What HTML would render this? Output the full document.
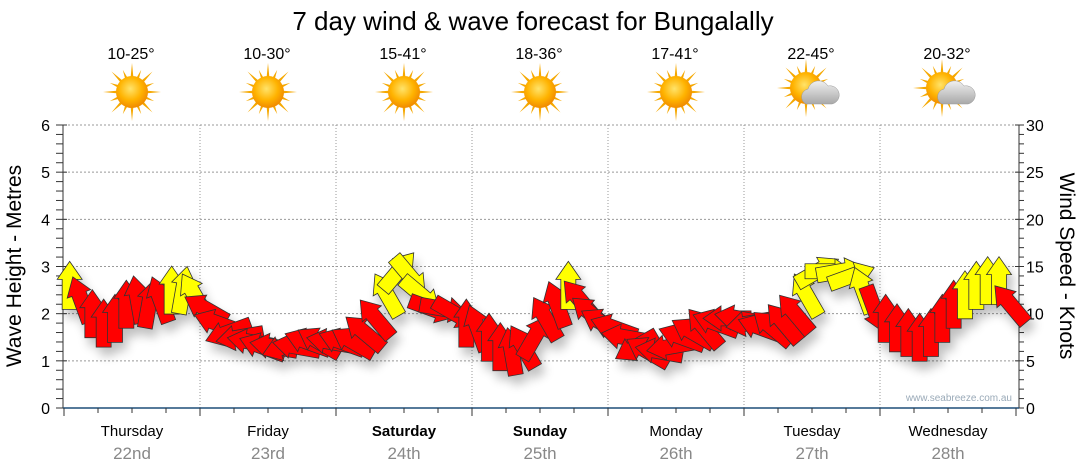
<!DOCTYPE html>
<html><head><meta charset="utf-8"><style>
body{margin:0;background:#fff;}
svg{display:block;font-family:"Liberation Sans",sans-serif;}
</style></head><body>
<svg id="c" width="1080" height="475" viewBox="0 0 1080 475">
<defs>
<filter id="sh" x="-20%" y="-20%" width="140%" height="160%"><feGaussianBlur in="SourceAlpha" stdDeviation="5"/><feOffset dx="4" dy="8"/><feComponentTransfer><feFuncA type="linear" slope="0.25"/></feComponentTransfer><feMerge><feMergeNode/><feMergeNode in="SourceGraphic"/></feMerge></filter>
<radialGradient id="sun" cx="45%" cy="40%" r="60%"><stop offset="0" stop-color="#ffe36a"/><stop offset="0.6" stop-color="#ffb300"/><stop offset="1" stop-color="#f08a00"/></radialGradient>
<linearGradient id="cloud" x1="0" y1="0" x2="0" y2="1"><stop offset="0" stop-color="#f0f0f0"/><stop offset="1" stop-color="#a8a8a8"/></linearGradient>
</defs>
<text x="533" y="30" font-size="26" text-anchor="middle" fill="#000">7 day wind &amp; wave forecast for Bungalally</text>
<g id="grid"></g>
<g id="axes"></g>
<g id="topg"></g>
<g id="arrows" filter="url(#sh)"></g>
<text x="1012" y="401" font-size="10" text-anchor="end" fill="#9aaab8">www.seabreeze.com.au</text>
<text transform="translate(21,266) rotate(-90)" font-size="21" text-anchor="middle">Wave Height - Metres</text>
<text transform="translate(1060,266) rotate(90)" font-size="21" text-anchor="middle">Wind Speed - Knots</text>
</svg>
<script>
const days=["Thursday","Friday","Saturday","Sunday","Monday","Tuesday","Wednesday"];
const dates=["22nd","23rd","24th","25th","26th","27th","28th"];
const boldDays=[false,false,true,true,false,false,false];
const temps=["10-25°","10-30°","15-41°","18-36°","17-41°","22-45°","20-32°"];
const cloudy=[false,false,false,false,false,true,true];
const leftTicks=[0,1,2,3,4,5,6];
const rightTicks=[0,5,10,15,20,25,30];
const windSpeed=[
13,11.5,10,9,9.5,11,11.5,11,11.5,12.5,12.5,12,
10.5,9,8,7.5,7,6.5,6.5,6.5,6.5,7,7,7,
7,7,8,9.5,12,14.5,14,12,10.5,10.5,10,9,
8.5,7.5,6.5,6,6.5,7.5,9.5,11,13,11.5,10,9,
8.5,7.5,6.5,6,6,6.5,7.5,8,8.5,9,9.5,9.5,
9,8.5,8.5,9,10,12,14.5,14.5,14.5,14,12.5,10.5,
9.5,8.5,8,7.5,8,9.5,11,12,13,13.5,13.5,11];
const windDir=[
0,-20,0,0,0,0,-10,10,-20,0,10,-30,
-60,-70,-110,-100,-80,-70,-80,-110,-80,-70,-60,-80,
-70,-60,-50,-40,-30,40,140,130,110,100,120,0,
-20,0,0,-10,-30,30,-30,-20,0,-40,-50,-60,
-70,-80,-120,-60,-80,-100,-70,-60,-40,-70,-90,-80,
-100,-70,-50,-40,-40,-30,60,90,80,70,-20,160,
0,0,0,0,0,0,0,0,0,0,0,-40];
const X0=64,DW=136,Y0=408,YT=125;
const yM=v=>Y0-(v/6)*(Y0-YT);
const yK=v=>Y0-(v/30)*(Y0-YT);
const xT=t=>X0+t*DW;
const NS="http://www.w3.org/2000/svg";
function mk(tag,attrs,parent){const e=document.createElementNS(NS,tag);for(const k in attrs)e.setAttribute(k,attrs[k]);parent.appendChild(e);return e;}
const gridG=document.getElementById('grid'),axesG=document.getElementById('axes'),topG=document.getElementById('topg'),arrG=document.getElementById('arrows');
leftTicks.forEach(v=>{if(v>0){const l=mk('line',{x1:64,x2:1019,y1:yM(v),y2:yM(v),stroke:'#999','stroke-dasharray':'2,2','stroke-width':1},gridG);

}
const t=mk('text',{x:50,y:yM(v)+6,'font-size':16,'text-anchor':'end'},axesG);t.textContent=v;

});
rightTicks.forEach(v=>{const t=mk('text',{x:1026,y:yK(v)+6,'font-size':16},axesG);t.textContent=v;

});
for(let i=0;i<=30;i++){const y=yK(i);mk('line',{x1:i%5?1019:1015,x2:1024,y1:y,y2:y,stroke:'#333'},axesG);mk('line',{x1:56,x2:i%5?63:67,y1:y,y2:y,stroke:'#333'},axesG);}
mk('line',{x1:63,x2:63,y1:YT,y2:Y0,stroke:'#333'},axesG);
mk('line',{x1:1019,x2:1019,y1:YT,y2:Y0,stroke:'#333'},axesG);
mk('line',{x1:63,x2:1019,y1:Y0,y2:Y0,stroke:'#1f4e79','stroke-width':1.5},axesG);
for(let i=0;i<=28;i++){const x=xT(i/4);if(x>1019)break;mk('line',{x1:x,x2:x,y1:Y0,y2:Y0+(i%4?5:8),stroke:'#333'},axesG);}
days.forEach((d,i)=>{
 if(i>0){const l=mk('line',{x1:xT(i),x2:xT(i),y1:YT,y2:Y0,stroke:'#999','stroke-dasharray':'1,2'},gridG);
 
 }
 const cx=xT(i+0.5);
 const t=mk('text',{x:cx,y:436,'font-size':15,'text-anchor':'middle','font-weight':boldDays[i]?'bold':'normal'},axesG);t.textContent=d;
 
 
 const t2=mk('text',{x:cx,y:459,'font-size':17,'text-anchor':'middle',fill:'#888'},axesG);t2.textContent=dates[i];
 
 
 const t3=mk('text',{x:cx-1,y:59,'font-size':16,'text-anchor':'middle'},topG);t3.textContent=temps[i];
 
 
 const g=mk('g',{transform:`translate(${cx},${cloudy[i]?88:92})`},topG);
 
 
 const sx=cloudy[i]?-6:0;
 for(let k=0;k<16;k++){const a=k*Math.PI/8,L=k%2?24:29;mk('polygon',{points:`${sx+Math.cos(a-0.12)*13},${Math.sin(a-0.12)*13} ${sx+Math.cos(a)*L},${Math.sin(a)*L} ${sx+Math.cos(a+0.12)*13},${Math.sin(a+0.12)*13}`,fill:'#f5a800'},g);}
 mk('circle',{cx:sx,cy:0,r:16,fill:'url(#sun)'},g);
 if(cloudy[i]){mk('path',{d:'M-6,16 a8,8 0 0 1 2,-15 a11,11 0 0 1 20,-3 a8,8 0 0 1 4,18 z',fill:'url(#cloud)',stroke:'#999','stroke-width':0.5},g);}
});
windSpeed.forEach((v,i)=>{
 const t=Math.floor(i/12)+((i%12)+0.5)/12;
 const x=xT(t),y=yK(v);
 const p=mk('polygon',{points:'-7.5,24 -7.5,-6 -12.5,-6 0,-24 12.5,-6 7.5,-6 7.5,24',fill:v>=12?'#ffff00':'#ff0000',stroke:'#333','stroke-width':0.8,transform:`translate(${x},${y}) rotate(${windDir[i]})`},arrG);
 
 
});
</script>
</body></html>
